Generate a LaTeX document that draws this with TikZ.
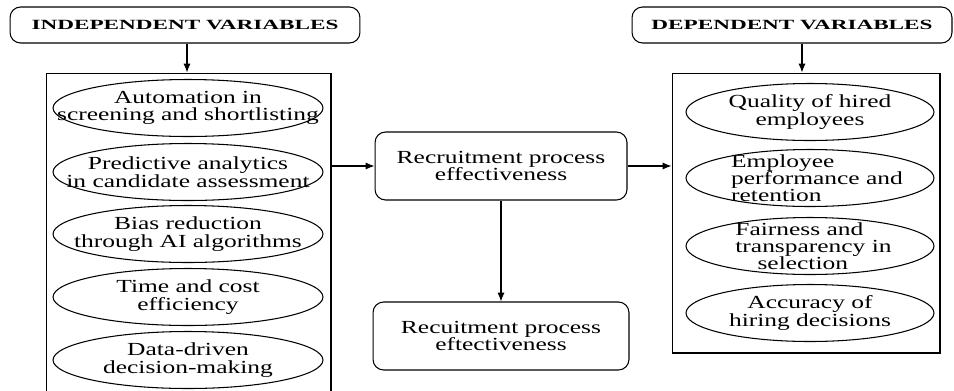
\documentclass[tikz,border=0pt]{standalone}
\usepackage{fontspec}
\setmainfont[FakeStretch=1.38]{Liberation Serif}
\newfontfamily\headfont[FakeStretch=1.65]{Liberation Serif}
\usetikzlibrary{shapes.geometric,arrows.meta}
\newcommand{\ztbodyfont}{\fontsize{10.5}{10}\selectfont}

\begin{document}
\begin{tikzpicture}[x=0.02cm,y=-0.02cm,semithick,
	headbox/.style={draw,rounded corners=6pt,minimum height=0.72cm,inner sep=0pt,font=\headfont\bfseries\fontsize{8}{9}\selectfont},
	groupbox/.style={draw,rectangle,inner sep=0pt},
	oval/.style={draw,ellipse,inner sep=0pt,minimum height=1.14cm},
	ovaltext/.style={inner sep=0pt,align=center,font=\ztbodyfont},
	procbox/.style={draw,rounded corners=6pt,minimum height=1.36cm,inner sep=0pt,align=center,font=\ztbodyfont},
	arr/.style={-{Latex[length=5pt,width=4pt]}}]
	\useasboundingbox (0,0) rectangle (954,390);
	% titles
	\node[headbox,minimum width=7cm] (IVT) at (185,25) {INDEPENDENT VARIABLES};
	\node[headbox,minimum width=6.4cm] (DVT) at (792,25) {DEPENDENT VARIABLES};
	% frames
	\node[groupbox,minimum width=5.7cm,minimum height=6.5cm] (IV) at (188.5,235.5) {};
	\node[groupbox,minimum width=5.36cm,minimum height=5.6cm] (DV) at (806,213) {};
	% independent variables
	\begin{scope}[every node/.append style={minimum width=5.4cm}]
		\node[oval] (IV_1) at (188,108) {};
		\node[oval] (IV_2) at (188,172) {};
		\node[oval] (IV_3) at (188,234) {};
		\node[oval] (IV_4) at (188,297) {};
		\node[oval] (IV_5) at (188,360) {};
	\end{scope}
	\node[ovaltext] (IV_1t) at (IV_1) {Automation in\\screening and shortlisting};
	\node[ovaltext] (IV_2t) at (IV_2) {Predictive analytics\\in candidate assessment};
	\node[ovaltext] (IV_3t) at (IV_3) {Bias reduction\\through AI algorithms};
	\node[ovaltext] (IV_4t) at (IV_4) {Time and cost\\efficiency};
	\node[ovaltext] (IV_5t) at (IV_5) {Data-driven\\decision-making};
	% dependent variables
	\begin{scope}[every node/.append style={minimum width=4.96cm,minimum height=1.2cm}]
		\node[oval] (DV_1) at (810,112) {};
		\node[oval] (DV_2) at (810,178) {};
		\node[oval] (DV_3) at (810,246) {};
		\node[oval] (DV_4) at (810,313) {};
	\end{scope}
	\node[ovaltext] (DV_1t) at (DV_1) {Quality of hired\\employees};
	\node[ovaltext,align=left,font=\fontsize{10.5}{9.8}\selectfont] (DV_2t) at ([xshift=4pt]DV_2) {Employee\\performance and\\retention};
	\node[ovaltext,align=left,font=\fontsize{10.5}{9.8}\selectfont] (DV_3t) at ([xshift=2pt]DV_3) {Fairness and\\transparency in\\\hspace*{1.2em}selection};
	\node[ovaltext] (DV_4t) at (DV_4) {Accuracy of\\hiring decisions};
	% process
	\node[procbox,minimum width=5.04cm] (P_1) at (501,166) {Recruitment process\\effectiveness};
	\node[procbox,minimum width=5.12cm] (P_2) at (501,336) {Recuitment process\\eftectiveness};
	% connectors
	\draw[arr] (IVT.south -| 187,0) -- (IV.north -| 187,0);
	\draw[arr] (DVT.south -| 802,0) -- (DV.north -| 802,0);
	\draw[arr] (P_1.west -| IV.east) -- (P_1.west);
	\draw[arr] (P_1.east) -- (P_1.east -| DV.west);
	\draw[arr] (P_1) -- (P_2);
\end{tikzpicture}
\end{document}
